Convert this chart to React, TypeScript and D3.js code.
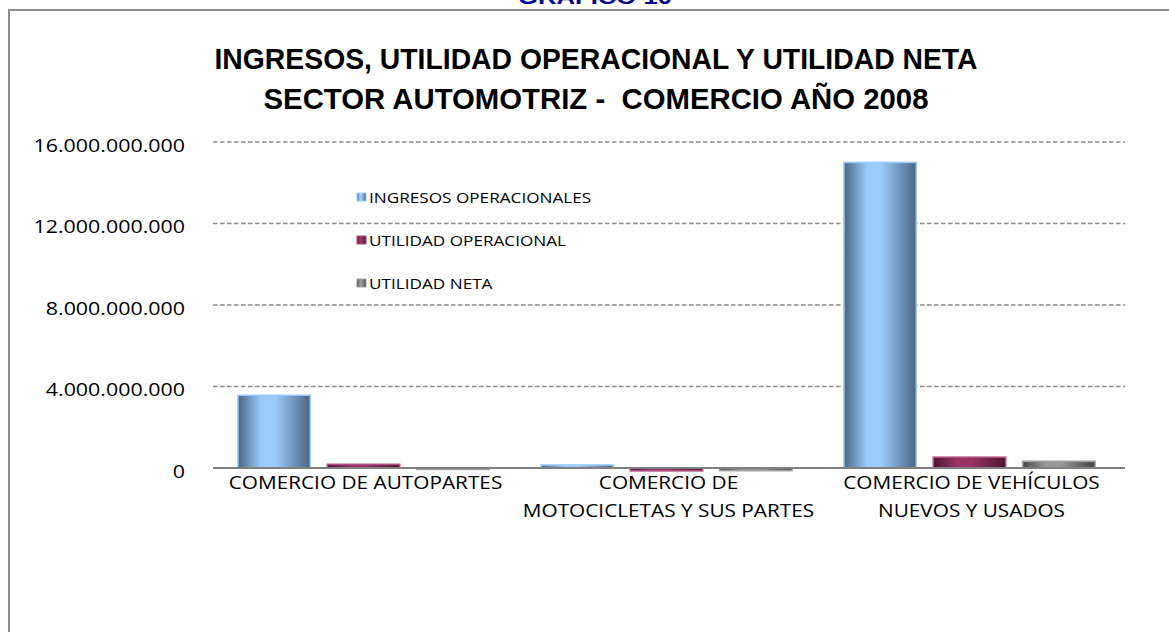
import React from "react";
import * as d3 from "d3";

const categories = [
  "COMERCIO DE AUTOPARTES",
  "COMERCIO DE MOTOCICLETAS Y SUS PARTES",
  "COMERCIO DE VEHÍCULOS NUEVOS Y USADOS",
];
const categoryLines = [
  ["COMERCIO DE AUTOPARTES"],
  ["COMERCIO DE", "MOTOCICLETAS Y SUS PARTES"],
  ["COMERCIO DE VEHÍCULOS", "NUEVOS Y USADOS"],
];
const seriesNames = ["INGRESOS OPERACIONALES", "UTILIDAD OPERACIONAL", "UTILIDAD NETA"];
const ingresosOperacionales = [3.57e9, 0.15e9, 15.0e9];
const utilidadOperacional = [0.18e9, -0.14e9, 0.53e9];
const utilidadNeta = [-0.07e9, -0.13e9, 0.33e9];
const yTicks = [0, 4e9, 8e9, 12e9, 16e9];

const seriesValues = [ingresosOperacionales, utilidadOperacional, utilidadNeta];

const seriesStyle = [
  { dark: "#4a6582", light: "#9acbfb", stroke: "#9fcdfb" },
  { dark: "#4a1730", light: "#993366", stroke: "#b04f80" },
  { dark: "#454545", light: "#989898", stroke: "#a0a0a0" },
];

const locale = d3.formatLocale({ decimal: ",", thousands: ".", grouping: [3], currency: ["$", ""] });
const fmt = locale.format(",.0f");

export default function App() {
  const W = 1169;
  const H = 632;
  const plotLeft = 212;
  const plotRight = 1121;
  const y = d3.scaleLinear().domain([0, 16e9]).range([468, 142]);
  const x0 = d3.scaleBand<string>().domain(categories).range([plotLeft, plotRight]).padding(0);
  const x1 = d3
    .scaleBand<string>()
    .domain(seriesNames)
    .range([0, x0.bandwidth()])
    .paddingInner(0.19)
    .paddingOuter(0.29);

  const legendRows = [197, 240, 283];

  return (
    <svg
      width={W}
      height={H}
      style={{ position: "absolute", left: 0, top: 0, background: "#fff" }}
    >
      <defs>
        {seriesStyle.map((s, i) => (
          <linearGradient key={i} id={`g${i}`} x1="0" y1="0" x2="1" y2="0">
            <stop offset="0%" stopColor={s.dark} />
            <stop offset="32%" stopColor={s.light} stopOpacity={1} />
            <stop offset="52%" stopColor={s.light} />
            <stop offset="100%" stopColor={s.dark} />
          </linearGradient>
        ))}
      </defs>

      {/* Header text above the frame (partly cut off, as in the reference) */}
      <text
        x={595}
        y={4}
        textAnchor="middle"
        fontFamily="Liberation Sans, Arial, sans-serif"
        fontWeight="bold"
        fontSize={20}
        fill="#000090"
        textLength={154}
        lengthAdjust="spacingAndGlyphs"
      >
        GRAFICO 10
      </text>

      {/* Frame */}
      <rect x={9} y={10} width={1300} height={800} fill="#fff" stroke="#8c8c8c" strokeWidth={2} />

      {/* Title */}
      <g fontFamily="Liberation Sans, Arial, sans-serif" fontWeight="bold" fontSize={30} fill="#000">
        <text x={596} y={69} textAnchor="middle" textLength={763} lengthAdjust="spacingAndGlyphs">
          INGRESOS, UTILIDAD OPERACIONAL Y UTILIDAD NETA
        </text>
        <text
          x={596}
          y={109}
          textAnchor="middle"
          textLength={665}
          lengthAdjust="spacingAndGlyphs"
          style={{ whiteSpace: "pre" }}
        >
          {"SECTOR AUTOMOTRIZ -  COMERCIO AÑO 2008"}
        </text>
      </g>

      {/* Gridlines */}
      {yTicks
        .filter((t) => t !== 0)
        .map((t) => (
          <line
            key={t}
            x1={213}
            x2={1125}
            y1={y(t)}
            y2={y(t)}
            stroke="#8a8a8a"
            strokeWidth={1.3}
            strokeDasharray="4.5,2.5"
          />
        ))}

      {/* Y tick labels */}
      <g fontFamily="Open Sans, sans-serif" fontSize={18} fill="#000">
        {yTicks.map((t) => (
          <text
            key={t}
            transform={`translate(185,${y(t) + 3}) scale(1.19,1)`}
            textAnchor="end"
            dominantBaseline="central"
          >
            {fmt(t)}
          </text>
        ))}
      </g>

      {/* Bars */}
      {categories.map((c, ci) => (
        <g key={c} transform={`translate(${x0(c)},0)`}>
          {seriesNames.map((s, si) => {
            const v = seriesValues[si][ci];
            const top = y(Math.max(0, v));
            const h = Math.abs(y(v) - y(0));
            return (
              <rect
                key={s}
                x={x1(s)}
                y={top}
                width={x1.bandwidth()}
                height={Math.max(h, 1)}
                fill={`url(#g${si})`}
                stroke={seriesStyle[si].stroke}
                strokeWidth={1.6}
              />
            );
          })}
        </g>
      ))}

      {/* Baseline */}
      <line x1={213} x2={1125} y1={y(0)} y2={y(0)} stroke="#808080" strokeWidth={2} />

      {/* X category labels */}
      <g fontFamily="Open Sans, sans-serif" fontSize={18} fill="#000">
        {categories.map((c, ci) =>
          categoryLines[ci].map((line, li) => (
            <text
              key={c + li}
              transform={`translate(${(x0(c) as number) + x0.bandwidth() / 2 + 2},${489 + li * 28}) scale(1.155,1)`}
              textAnchor="middle"
            >
              {line}
            </text>
          ))
        )}
      </g>

      {/* Legend */}
      <g fontFamily="Open Sans, sans-serif" fontSize={15} fill="#000">
        {seriesNames.map((s, si) => (
          <g key={s}>
            <rect
              x={357}
              y={legendRows[si] - 4}
              width={9}
              height={8}
              fill={`url(#g${si})`}
              stroke={seriesStyle[si].stroke}
              strokeWidth={1}
            />
            <text
              transform={`translate(369,${legendRows[si]}) scale(1.145,1)`}
              dominantBaseline="central"
            >
              {s}
            </text>
          </g>
        ))}
      </g>
    </svg>
  );
}
